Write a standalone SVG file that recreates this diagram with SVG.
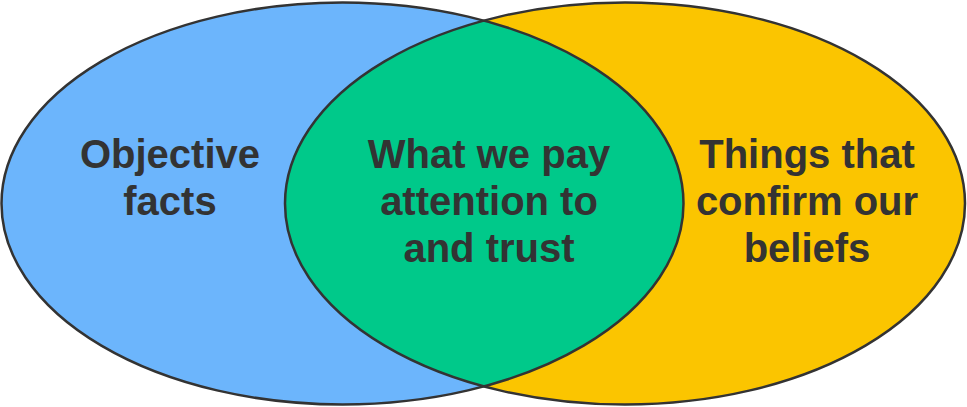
<svg xmlns="http://www.w3.org/2000/svg" width="967" height="407" viewBox="0 0 967 407">
<style>
.lbl{font-family:"Liberation Sans",Arial,Helvetica,sans-serif;font-weight:bold;font-size:40px;fill:#333333;text-anchor:middle}
.edge{fill:none;stroke:#333333;stroke-width:2.5}
</style>
<defs>
<clipPath id="clipL"><ellipse cx="342.5" cy="203.5" rx="341" ry="201"/></clipPath>
</defs>
<g id="left">
<ellipse cx="342.5" cy="203.5" rx="341" ry="201" fill="#6cb5fc"/>
</g>
<g id="right">
<ellipse cx="625" cy="203.5" rx="340" ry="201" fill="#fbc500"/>
</g>
<g id="overlap">
<ellipse cx="625" cy="203.5" rx="340" ry="201" fill="#00c98a" clip-path="url(#clipL)"/>
</g>
<g id="outlines">
<ellipse class="edge" cx="342.5" cy="203.5" rx="341" ry="201"/>
<ellipse class="edge" cx="625" cy="203.5" rx="340" ry="201"/>
</g>
<g id="labels">
<text class="lbl" x="170" y="168">Objective</text>
<text class="lbl" x="170" y="215">facts</text>
<text class="lbl" x="489" y="168">What we pay</text>
<text class="lbl" x="489" y="215">attention to</text>
<text class="lbl" x="489" y="262">and trust</text>
<text class="lbl" x="807" y="168">Things that</text>
<text class="lbl" x="807" y="215">confirm our</text>
<text class="lbl" x="807" y="262">beliefs</text>
</g>
</svg>
